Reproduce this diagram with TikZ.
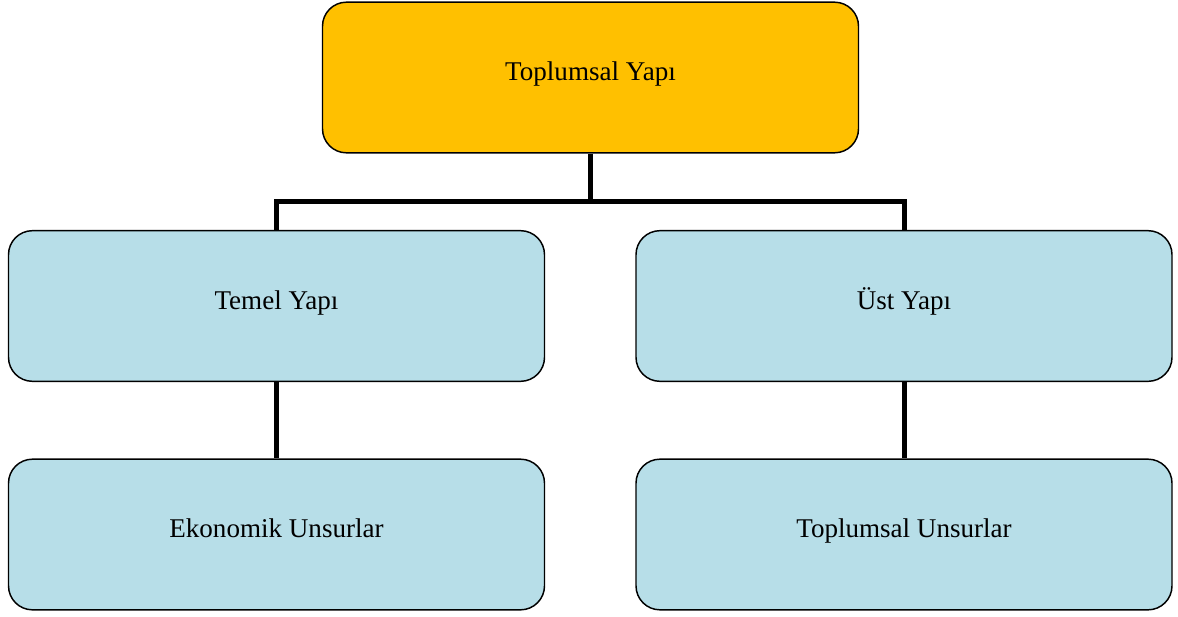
\documentclass[tikz,border=0pt]{standalone}
\usepackage{fontspec}
\setmainfont{Liberation Serif}
\usepackage{tikz}

\definecolor{gold}{HTML}{FFC000}
\definecolor{paleblue}{HTML}{B7DEE8}

\tikzset{
  box/.style={draw, line width=1.1pt, rounded corners=18pt, minimum width=402pt,
    minimum height=113pt, anchor=center, text height=0.7em, text depth=0.25em,
    font=\fontsize{20.3}{24}\selectfont},
  topbox/.style={box, fill=gold},
  subbox/.style={box, fill=paleblue},
  conn/.style={line width=3.75pt, line join=miter}
}

\begin{document}
\begin{tikzpicture}[x=0.75pt,y=-0.75pt]
\useasboundingbox (0,0) rectangle (1178,617);

\node[topbox] (top) at (590.5,77.5) {Toplumsal Yapı};
\node[subbox] (temel) at (276.5,306) {Temel Yapı};
\node[subbox] (ust) at (904,306) {Üst Yapı};
\node[subbox] (ekonomik) at (276.5,534.5) {Ekonomik Unsurlar};
\node[subbox] (toplumsal) at (904,534.5) {Toplumsal Unsurlar};

\coordinate (j) at (590.5,201);
\draw[conn] (top.south) -- (j);
\draw[conn] (temel.north) |- (j) -| (ust.north);
\draw[conn] (temel.south) -- (ekonomik.north);
\draw[conn] (ust.south) -- (toplumsal.north);
\end{tikzpicture}
\end{document}
